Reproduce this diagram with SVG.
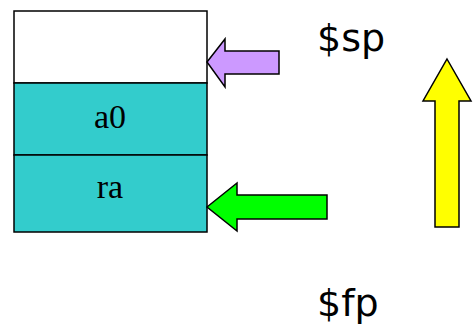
<svg xmlns="http://www.w3.org/2000/svg" width="476" height="331" viewBox="0 0 476 331">
<style>
.cell{stroke:#000;stroke-width:1.5}
.lbl{font-family:"Liberation Serif","Times New Roman",serif;font-size:34px;fill:#000;text-anchor:middle}
.reg{font-family:"DejaVu Sans","Comic Sans MS",sans-serif;font-size:38px;fill:#000}
.arr{stroke:#000;stroke-width:1.5;stroke-linejoin:miter}
</style>
<rect width="476" height="331" fill="#fff"/>
<g id="cell-empty"><rect class="cell" x="14" y="11" width="193" height="72" fill="#fff"/></g>
<g id="cell-a0"><rect class="cell" x="14" y="83" width="193" height="72" fill="#33CCCC"/><text class="lbl" x="110" y="128">a0</text></g>
<g id="cell-ra"><rect class="cell" x="14" y="155" width="193" height="77" fill="#33CCCC"/><text class="lbl" x="110" y="198">ra</text></g>
<g id="label-sp"><text class="reg" x="317" y="51">$sp</text></g>
<g id="label-fp"><text class="reg" x="317" y="316">$fp</text></g>
<g id="connectors">
<polygon id="arrow-sp" class="arr" fill="#CC99FF" points="207,62 225,39 225,51 279,51 279,74 225,74 225,87"/>
<polygon id="arrow-fp" class="arr" fill="#00FF00" points="207,207 237,183 237,195 327,195 327,219 237,219 237,231"/>
<polygon id="arrow-grow" class="arr" fill="#FFFF00" points="447,59 471,101 459,101 459,227 435,227 435,101 423,101"/>
</g>
</svg>
